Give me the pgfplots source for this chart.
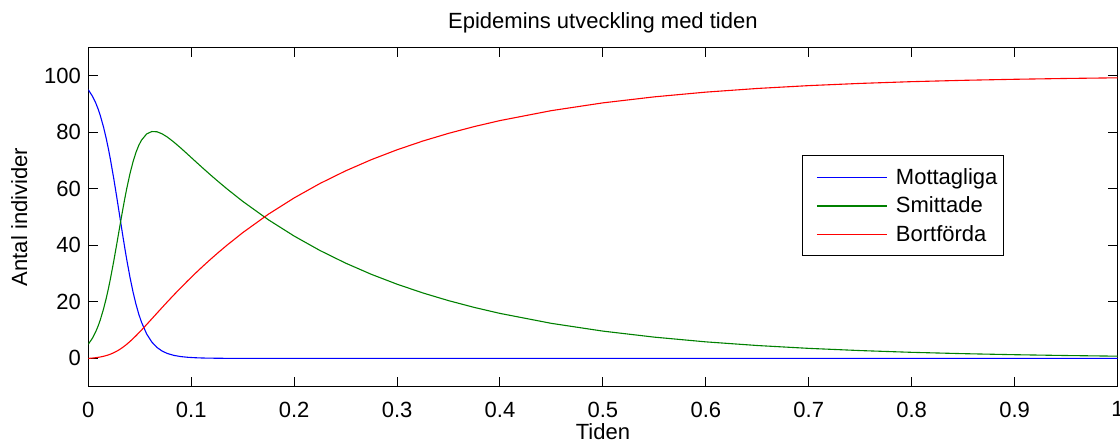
\documentclass[border=0pt]{standalone}
\usepackage{pgfplots}
\pgfplotsset{compat=1.18}
\usepackage{pgfplotstable}
\usepackage{fontspec}
\setmainfont{Liberation Sans}
\definecolor{mblue}{rgb}{0,0,1}
\definecolor{mgreen}{rgb}{0,0.5,0}
\definecolor{mred}{rgb}{1,0,0}
\pgfplotstableread{
t S I R
0 95 5 0
0.00413 92.65 7.22 0.125
0.00717 90.37 9.38 0.25
0.00958 88.14 11.49 0.375
0.01158 85.96 13.54 0.5
0.01482 81.77 17.48 0.75
0.01741 77.78 21.22 1
0.01959 73.99 24.76 1.25
0.02148 70.38 28.12 1.5
0.02469 63.68 34.32 2
0.02739 57.62 39.88 2.5
0.02975 52.14 44.86 3
0.03188 47.18 49.32 3.5
0.03383 42.69 53.31 4
0.03565 38.62 56.88 4.5
0.03735 34.95 60.05 5
0.04054 28.61 65.39 6
0.04350 23.43 69.57 7
0.04631 19.18 72.82 8
0.04901 15.70 75.30 9
0.05163 12.86 77.14 10
0.05674 8.62 79.38 12
0.06174 5.78 80.22 14
0.06673 3.87 80.13 16
0.07174 2.60 79.40 18
0.07681 1.74 78.26 20
0.08328 1.06 76.44 22.5
0.08993 0.64 74.36 25
0.09676 0.39 72.11 27.5
0.10378 0.24 69.77 30
0.11108 0.14 67.36 32.5
0.11865 0.09 64.91 35
0.12651 0.05 62.45 37.5
0.13466 0.03 59.97 40
0.15 0.01 55.54 44.45
0.175 0.00 49.01 50.99
0.2 0 43.26 56.74
0.225 0 38.17 61.83
0.25 0 33.69 66.31
0.275 0 29.73 70.27
0.3 0 26.24 73.76
0.325 0 23.15 76.85
0.35 0 20.43 79.57
0.375 0 18.03 81.97
0.4 0 15.91 84.09
0.45 0 12.39 87.61
0.5 0 9.65 90.35
0.55 0 7.52 92.48
0.6 0 5.85 94.15
0.65 0 4.56 95.44
0.7 0 3.55 96.45
0.75 0 2.77 97.23
0.8 0 2.15 97.85
0.85 0 1.68 98.32
0.9 0 1.31 98.69
0.95 0 1.02 98.98
1.0 0 0.79 99.21
}\sirdata
\begin{document}
\begin{tikzpicture}
\begin{axis}[
  name=ax,
  scale only axis,
  width=514.6pt, height=169.7pt,
  xmin=0, xmax=1, ymin=-10, ymax=110,
  xtick={0,0.1,...,1},
  xticklabels={0,0.1,0.2,0.3,0.4,0.5,0.6,0.7,0.8,0.9,1},
  ytick={0,20,...,100},
  tick align=inside,
  xtick pos=both, ytick pos=both,
  xticklabel pos=lower, yticklabel pos=left,
  major tick length=5pt,
  every tick/.style={black, line width=0.5pt},
  axis line style={line width=0.65pt},
  font=\fontsize{11}{13}\selectfont,
  /pgf/number format/assume math mode=true,
  yticklabel style={inner sep=0pt, xshift=-3.5pt, anchor=east},
  xticklabel style={inner sep=0pt, yshift=-7.3pt, anchor=north},
  title={Epidemins utveckling med tiden},
  every axis title/.style={at={([yshift=9.3pt]axis description cs:0.5,1)}, anchor=base, inner sep=0pt},
  xlabel={Tiden},
  xlabel style={at={([yshift=-26.5pt]axis description cs:0.5,0)}, anchor=base, inner sep=0pt},
  ylabel={Antal individer},
  ylabel style={at={([xshift=-30.6pt]axis description cs:0,0.5)}, anchor=base, inner sep=0pt, rotate=0},
  legend cell align=left,
  legend image code/.code={\path (0pt,0pt); \draw[#1, line width=0.55pt] (5.5pt,0pt) -- (40.8pt,0pt);},
  legend style={at={(axis description cs:0.6932,0.6812)}, anchor=north west,
    draw=black, line width=0.5pt, inner xsep=1.5pt, inner ysep=3.25pt,
    font=\fontsize{11}{13}\selectfont, row sep=-0.75pt,
    nodes={inner sep=1.5pt, text height=9.5pt, text depth=2.5pt},
    /tikz/every odd column/.append style={column sep=2.5pt}},
]
\addplot[mblue, line width=0.55pt] table[x=t, y=S] {\sirdata};
\addlegendentry{Mottagliga}
\addplot[mgreen, line width=0.55pt] table[x=t, y=I] {\sirdata};
\addlegendentry{Smittade}
\addplot[mred, line width=0.55pt] table[x=t, y=R] {\sirdata};
\addlegendentry{Bortförda}
\end{axis}
\pgfresetboundingbox
\path[use as bounding box] ([xshift=-44.15pt,yshift=-28.15pt]ax.south west) rectangle ([xshift=1.25pt,yshift=23.65pt]ax.north east);
\end{tikzpicture}
\end{document}
